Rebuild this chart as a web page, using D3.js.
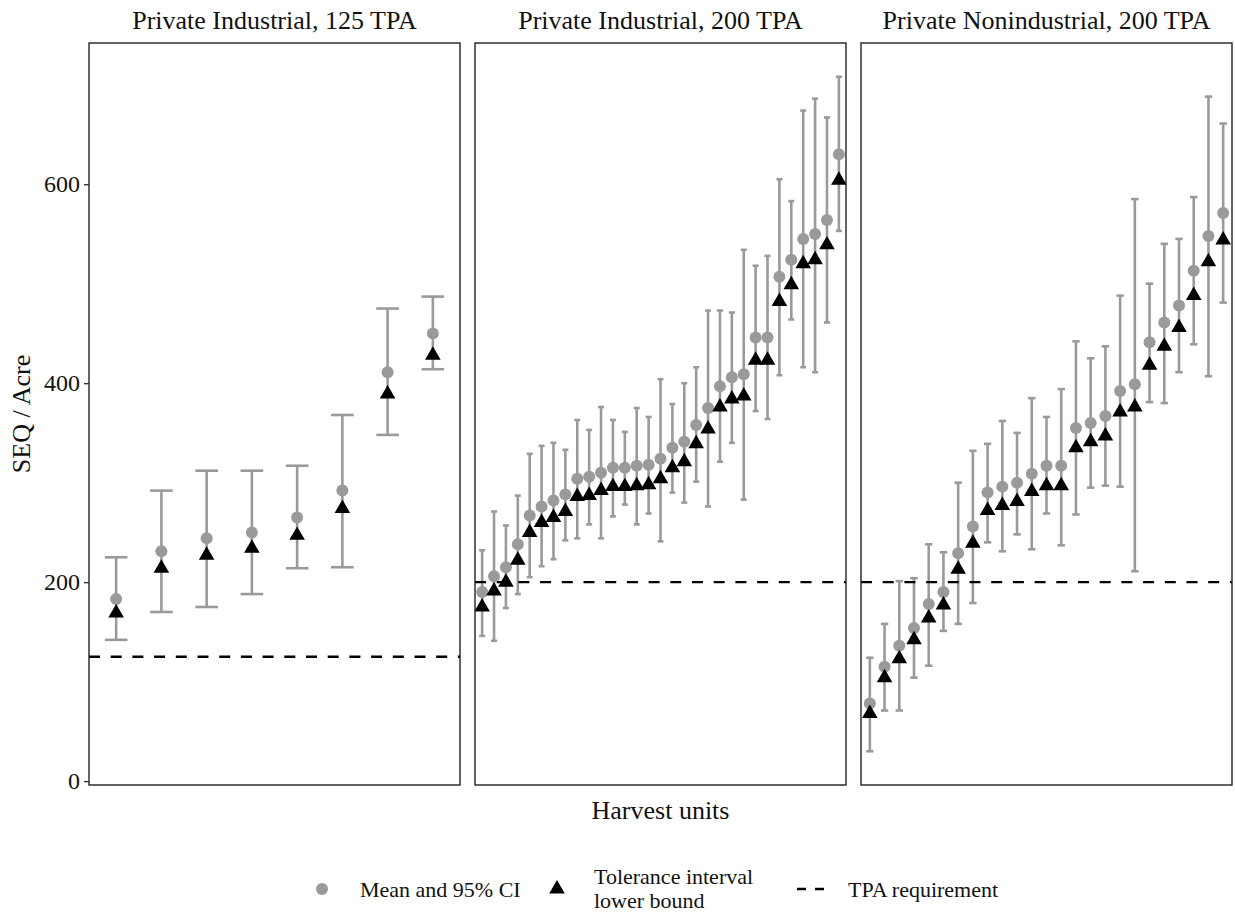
<!DOCTYPE html>
<html>
<head>
<meta charset="utf-8">
<script src="https://cdn.jsdelivr.net/npm/d3@7"></script>
<style>
body { margin: 0; background: #fff; }
text { font-family: "Liberation Serif", "Times New Roman", serif; fill: #111; }
</style>
</head>
<body>
<div id="chart"></div>
<script>
// panel titles and requirement lines
var titles = ["Private Industrial, 125 TPA", "Private Industrial, 200 TPA", "Private Nonindustrial, 200 TPA"]
var tpa = [125, 200, 200]
var yTicks = [0, 200, 400, 600]

// Private Industrial, 125 TPA
var p1Mean = [183, 231, 244, 250, 265, 292, 411, 450]
var p1Tol = [169, 214, 227, 234, 247, 274, 389, 428]
var p1Lo = [142, 170, 175, 188, 214, 215, 348, 414]
var p1Hi = [225, 292, 312, 312, 317, 368, 475, 487]

// Private Industrial, 200 TPA
var p2Mean = [190, 206, 215, 238, 267, 276, 282, 288, 304, 306, 310, 315, 315, 317, 318, 324, 335, 341, 358, 375, 397, 406, 409, 446, 446, 507, 524, 545, 550, 564, 630]
var p2Tol = [175, 191, 200, 222, 250, 260, 265, 271, 286, 287, 292, 296, 296, 297, 298, 304, 315, 321, 339, 354, 376, 384, 387, 423, 423, 482, 499, 520, 524, 539, 604]
var p2Lo = [146, 141, 174, 188, 205, 216, 223, 242, 244, 258, 244, 266, 278, 258, 269, 241, 290, 280, 301, 276, 321, 340, 283, 372, 364, 408, 464, 416, 411, 461, 553]
var p2Hi = [232, 271, 257, 287, 329, 337, 340, 333, 363, 353, 376, 363, 351, 375, 366, 404, 379, 400, 416, 473, 473, 471, 534, 518, 528, 605, 583, 674, 686, 667, 708]

// Private Nonindustrial, 200 TPA
var p3Mean = [78, 115, 136, 154, 178, 190, 229, 256, 290, 296, 300, 309, 317, 317, 355, 360, 367, 392, 399, 441, 461, 478, 513, 548, 571]
var p3Tol = [68, 104, 123, 142, 164, 177, 213, 239, 272, 277, 281, 291, 297, 297, 335, 341, 347, 371, 376, 418, 437, 456, 488, 522, 544]
var p3Lo = [30, 71, 71, 104, 116, 151, 158, 179, 240, 231, 248, 233, 269, 237, 268, 295, 297, 296, 211, 381, 380, 411, 439, 407, 481]
var p3Hi = [124, 158, 201, 204, 238, 230, 300, 332, 339, 362, 350, 385, 366, 394, 442, 425, 437, 488, 585, 500, 540, 545, 587, 688, 661]

var panels = [
    { mean: p1Mean, tol: p1Tol, lo: p1Lo, hi: p1Hi },
    { mean: p2Mean, tol: p2Tol, lo: p2Lo, hi: p2Hi },
    { mean: p3Mean, tol: p3Tol, lo: p3Lo, hi: p3Hi }
]

var W = 1235, H = 914
var grey = "#9a9a9a"
var plotTop = 43, plotBottom = 785
var panelX = [89, 475, 861], panelW = 371

var svg = d3.select("#chart").append("svg").attr("width", W).attr("height", H)

// shared y scale with ggplot style 5% expansion
var allLo = d3.min([p1Lo, p2Lo, p3Lo], function(a) { return d3.min(a) })
var allHi = d3.max([p1Hi, p2Hi, p3Hi], function(a) { return d3.max(a) })
var pad = (allHi - allLo) * 0.05
var y = d3.scaleLinear().domain([allLo - pad, allHi + pad]).range([plotBottom, plotTop])

var tri = d3.symbol().type(d3.symbolTriangle).size(105)

panels.forEach(function(p, k) {
    var n = p.mean.length
    var x = d3.scalePoint().domain(d3.range(n)).range([0, panelW]).padding(0.6)
    var cap = x.step() * 0.25
    var g = svg.append("g").attr("transform", "translate(" + panelX[k] + ",0)")

    // title
    g.append("text").attr("x", panelW / 2).attr("y", 29)
        .attr("text-anchor", "middle").style("font-size", "26px").text(titles[k])

    var idx = d3.range(n)
    // error bars
    var eb = g.selectAll(".eb").data(idx).enter().append("g")
        .attr("stroke", grey).attr("stroke-width", 2.6).attr("fill", "none")
    eb.append("line").attr("x1", function(i) { return x(i) }).attr("x2", function(i) { return x(i) })
        .attr("y1", function(i) { return y(p.lo[i]) }).attr("y2", function(i) { return y(p.hi[i]) })
    eb.append("line").attr("x1", function(i) { return x(i) - cap }).attr("x2", function(i) { return x(i) + cap })
        .attr("y1", function(i) { return y(p.lo[i]) }).attr("y2", function(i) { return y(p.lo[i]) })
    eb.append("line").attr("x1", function(i) { return x(i) - cap }).attr("x2", function(i) { return x(i) + cap })
        .attr("y1", function(i) { return y(p.hi[i]) }).attr("y2", function(i) { return y(p.hi[i]) })

    // requirement line
    g.append("line").attr("x1", 0).attr("x2", panelW)
        .attr("y1", y(tpa[k])).attr("y2", y(tpa[k]))
        .attr("stroke", "#000").attr("stroke-width", 2.4).attr("stroke-dasharray", "11,10.7")

    // means
    g.selectAll(".mean").data(idx).enter().append("circle")
        .attr("cx", function(i) { return x(i) }).attr("cy", function(i) { return y(p.mean[i]) })
        .attr("r", 6).attr("fill", grey)

    // tolerance lower bound
    g.selectAll(".tol").data(idx).enter().append("path")
        .attr("d", tri)
        .attr("transform", function(i) { return "translate(" + x(i) + "," + y(p.tol[i]) + ")" })
        .attr("fill", "#000")

    // border
    g.append("rect").attr("x", 0).attr("y", plotTop).attr("width", panelW).attr("height", plotBottom - plotTop)
        .attr("fill", "none").attr("stroke", "#222").attr("stroke-width", 1.4)
})

// y axis on first panel
var ax = svg.append("g").attr("transform", "translate(" + panelX[0] + ",0)")
    .call(d3.axisLeft(y).tickValues(yTicks).tickSize(5).tickPadding(4))
ax.select(".domain").remove()
ax.selectAll("line").attr("stroke", "#333").attr("stroke-width", 1.4)
ax.selectAll("text").style("font-size", "24px").style("font-family", "Liberation Serif").attr("fill", "#222")

// axis titles
svg.append("text").attr("transform", "translate(30," + ((plotTop + plotBottom) / 2) + ") rotate(-90)")
    .attr("text-anchor", "middle").style("font-size", "26px").text("SEQ / Acre")
svg.append("text").attr("x", (panelX[0] + panelX[2] + panelW) / 2).attr("y", 819)
    .attr("text-anchor", "middle").style("font-size", "26px").text("Harvest units")

// legend
var lg = svg.append("g").attr("transform", "translate(0,889)")
lg.append("circle").attr("cx", 322).attr("cy", 0).attr("r", 6).attr("fill", grey)
lg.append("text").attr("x", 360).attr("y", 8).style("font-size", "22px").text("Mean and 95% CI")
lg.append("path").attr("d", tri).attr("transform", "translate(557,0)").attr("fill", "#000")
lg.append("text").attr("x", 594).attr("y", -5).style("font-size", "22px").text("Tolerance interval")
lg.append("text").attr("x", 594).attr("y", 19).style("font-size", "22px").text("lower bound")
lg.append("line").attr("x1", 797).attr("x2", 824).attr("y1", 0).attr("y2", 0)
    .attr("stroke", "#000").attr("stroke-width", 2.4).attr("stroke-dasharray", "9,9")
lg.append("text").attr("x", 848).attr("y", 8).style("font-size", "22px").text("TPA requirement")
</script>
</body>
</html>
